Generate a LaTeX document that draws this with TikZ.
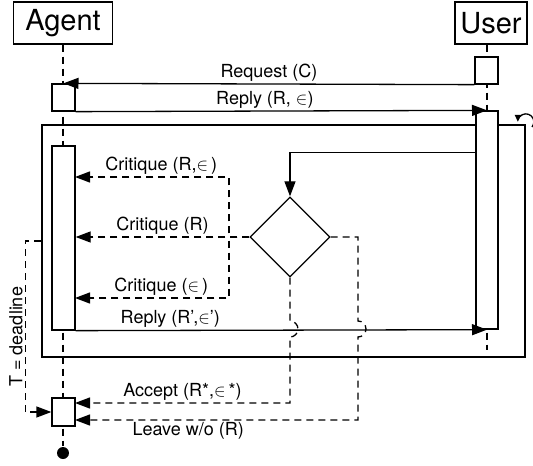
\documentclass[tikz,border=0pt]{standalone}
\usepackage{fontspec}
\setmainfont{TeX Gyre Heros}
\usetikzlibrary{arrows.meta,positioning,calc,shapes.geometric}

\begin{document}
\begin{tikzpicture}[x=1pt,y=-1pt,line width=1.3pt,
  >={Triangle[length=15pt,width=11pt]},
  actor/.style={draw,minimum height=42pt,inner sep=0pt,font=\fontsize{29}{31}\selectfont},
  bar/.style={draw,fill=white,minimum width=23pt,inner sep=0pt},
  msg/.style={above,inner sep=2pt,font=\fontsize{18}{20}\selectfont},
  ret/.style={dash pattern=on 7pt off 5pt}]
    \useasboundingbox (0,0) rectangle (533,466);
    \node[actor,minimum width=99pt](agent) at (63,23) {Agent};
    \node[actor,minimum width=72pt](user) at (491,23) {User};
    \node[circle,fill,inner sep=0pt,minimum size=12pt](stop) at (63,453) {};
    \coordinate (uend) at (487,350);
    % lifelines
    \draw[ret] (agent.south) -- (stop);
    \draw[ret] (user.south -| uend) -- (uend);
    % loop frame
    \node[draw,minimum width=483pt,minimum height=232pt,inner sep=0pt](loop) at (283.5,241) {};
    \draw[->,>={Triangle[length=7pt,width=6pt]}] (532,127) arc[start angle=-40,end angle=180,radius=8pt];
    % activations
    \node[bar,minimum height=27pt](ureq) at (486.5,70.5) {};
    \node[bar,minimum height=27pt](areq) at (63.5,97.5) {};
    \node[bar,minimum width=22pt,minimum height=218pt](ubar) at (487,220) {};
    \node[bar,minimum height=184pt](abar) at (63.5,238) {};
    \node[bar,minimum height=28pt](aend) at (63.5,412) {};
    \node[diamond,draw,inner sep=0pt,minimum width=80pt,minimum height=80pt](dec) at (290,237) {};
    \coordinate (split) at (229,237);
    \coordinate (crs) at (75,177);
    \coordinate (cre) at (75,298);
    \coordinate (acc) at (75,403);
    \coordinate (lve) at (75,420);

    \draw[->] (ureq.south west) -- node[msg] {Request (C)} (areq.north);
    \draw[->] (areq.south east) -- node[msg,pos=.46] {Reply (R, $\in$)} (ubar.north);
    \draw[->] ($(ubar.north west)+(0,42)$) -| (dec);
    \draw[ret,->] (dec.west) -- node[msg] {Critique (R)} (abar.east |- dec.west);
    \draw[ret,->] (dec.west) -- (split) |- node[msg,pos=.72] {Critique (R,$\in$\,)} (crs);
    \draw[ret,->] (dec.west) -- (split) |- node[msg,pos=.72] {Critique ($\in$\,)} (cre);
    \draw[->] (abar.south east) -- node[msg,pos=.23] {Reply (R',$\in$')} (ubar.south);

    \draw[ret,->] (dec.south) -- (290,321) arc[start angle=90,end angle=-90,radius=8pt]
      -- (290,403) -- node[msg] {Accept (R*,$\in$\,*)} (acc);
    \draw[ret,->] (dec.east) -- (358,237) -- (358,321) arc[start angle=90,end angle=-90,radius=8pt]
      -- (358,420) -- node[msg,below,pos=.6] {Leave w/o (R)} (lve);
    \draw[ret,->] (loop.west) -- ++(-16,0) |- node[msg,pos=.28,rotate=90] {T = deadline} (aend.west);
\end{tikzpicture}
\end{document}
